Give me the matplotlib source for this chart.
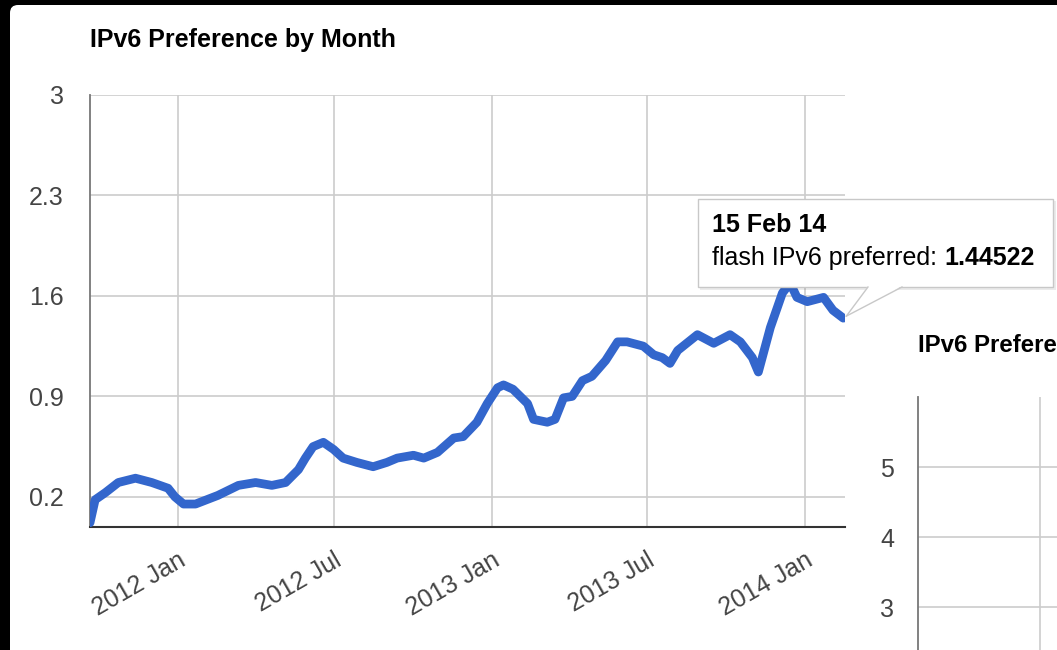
import numpy as np
import matplotlib.pyplot as plt
import matplotlib.dates as mdates
from matplotlib.patches import Rectangle, Polygon, FancyBboxPatch
from matplotlib.transforms import ScaledTranslation
from datetime import datetime

plt.rcParams['font.family'] = ['Liberation Sans', 'DejaVu Sans']

# datos
fechas = ['2011-09-21', '2011-09-27', '2011-10-09', '2011-10-24', '2011-11-13',
          '2011-12-02', '2011-12-21', '2011-12-29', '2012-01-08', '2012-01-22',
          '2012-02-17', '2012-03-12', '2012-04-01', '2012-04-20', '2012-05-06',
          '2012-05-21', '2012-05-29', '2012-06-07', '2012-06-19', '2012-07-01',
          '2012-07-12', '2012-07-28', '2012-08-16', '2012-09-01', '2012-09-13',
          '2012-10-02', '2012-10-14', '2012-10-30', '2012-11-18', '2012-11-29',
          '2012-12-15', '2012-12-27', '2013-01-08', '2013-01-15', '2013-01-26',
          '2013-02-12', '2013-02-19', '2013-03-07', '2013-03-16', '2013-03-26',
          '2013-04-05', '2013-04-17', '2013-04-28', '2013-05-14', '2013-05-28',
          '2013-06-08', '2013-06-27', '2013-07-09', '2013-07-19', '2013-07-28',
          '2013-08-06', '2013-08-29', '2013-09-17', '2013-10-06', '2013-10-18',
          '2013-11-01', '2013-11-08', '2013-11-22', '2013-12-06', '2013-12-15',
          '2013-12-23', '2014-01-04', '2014-01-23', '2014-02-03', '2014-02-15']
valores = [0.02, 0.18, 0.23, 0.30, 0.33,
           0.30, 0.26, 0.20, 0.15, 0.15,
           0.21, 0.28, 0.30, 0.28, 0.30,
           0.39, 0.47, 0.55, 0.58, 0.53,
           0.47, 0.44, 0.41, 0.44, 0.47,
           0.49, 0.47, 0.51, 0.61, 0.62,
           0.72, 0.85, 0.96, 0.98, 0.95,
           0.85, 0.74, 0.72, 0.74, 0.89,
           0.90, 1.01, 1.04, 1.15, 1.28,
           1.28, 1.25, 1.19, 1.17, 1.13,
           1.22, 1.33, 1.27, 1.33, 1.28,
           1.17, 1.07, 1.38, 1.62, 1.69,
           1.59, 1.56, 1.59, 1.50, 1.44522]

ticks_x = ['2012-01-01', '2012-07-01', '2013-01-01', '2013-07-01', '2014-01-01']
etiquetas_x = ['2012 Jan', '2012 Jul', '2013 Jan', '2013 Jul', '2014 Jan']
ticks_y = [0.2, 0.9, 1.6, 2.3, 3]
etiquetas_y = ['0.2', '0.9', '1.6', '2.3', '3']
ticks_y2 = [3, 4, 5]

titulo = 'IPv6 Preference by Month'
titulo2 = 'IPv6 Prefere'
tooltip_fecha = '15 Feb 14'
tooltip_serie = 'flash IPv6 preferred: '
tooltip_valor = '1.44522'

W, H = 1057, 650
fig = plt.figure(figsize=(W / 100, H / 100), dpi=100, facecolor='black')

# fondo blanco (captura de pantalla con borde negro)
fondo = fig.add_axes([0, 0, 1, 1], zorder=0)
fondo.set_xlim(0, W)
fondo.set_ylim(H, 0)
fondo.axis('off')
fondo.add_patch(FancyBboxPatch((10, 5), W + 50, H + 50,
                               boxstyle='round,pad=0,rounding_size=8',
                               fc='white', ec='none'))

gris_texto = '#444444'
gris_grid = '#cccccc'
fs = 18

# grafico principal
ax = fig.add_axes([90 / W, (H - 527) / H, 755 / W, 432 / H], zorder=1)
ax.patch.set_alpha(0)
x = [datetime.strptime(f, '%Y-%m-%d') for f in fechas]
ax.plot(x, valores, color='#3366cc', lw=6.3,
        solid_capstyle='round', solid_joinstyle='round', zorder=3)
ax.set_xlim(datetime(2011, 9, 21), datetime(2014, 2, 17))
ax.set_ylim(-0.01, 3)
ax.set_yticks(ticks_y)
ax.set_yticklabels(etiquetas_y)
ax.set_xticks([datetime.strptime(t, '%Y-%m-%d') for t in ticks_x])
ax.set_xticklabels(etiquetas_x, rotation=30, ha='right', rotation_mode='anchor')
desplaza = ScaledTranslation(-6 / 100, -4 / 100, fig.dpi_scale_trans)
for lab in ax.get_xticklabels():
    lab.set_transform(lab.get_transform() + desplaza)
ax.grid(color=gris_grid, lw=1.2)
ax.set_axisbelow(True)
for s in ['top', 'right']:
    ax.spines[s].set_visible(False)
ax.spines['left'].set_color('#777777')
ax.spines['left'].set_linewidth(1.3)
ax.spines['bottom'].set_color('#333333')
ax.spines['bottom'].set_linewidth(1.5)
ax.tick_params(axis='y', length=0, pad=19, labelsize=fs, labelcolor=gris_texto)
ax.tick_params(axis='x', length=0, pad=15, labelsize=fs, labelcolor=gris_texto)

# segundo grafico (cortado a la derecha)
ax2 = fig.add_axes([918 / W, 0, 139 / W, 253 / H], zorder=1)
ax2.patch.set_alpha(0)
ax2.set_xlim(0, 1)
ax2.set_ylim(2.386, 6)
ax2.set_yticks(ticks_y2)
ax2.set_xticks([0.878])
ax2.set_xticklabels([])
ax2.grid(color=gris_grid, lw=1.2)
for s in ['top', 'right', 'bottom']:
    ax2.spines[s].set_visible(False)
ax2.spines['left'].set_color('#777777')
ax2.spines['left'].set_linewidth(1.3)
ax2.tick_params(axis='y', length=0, pad=17, labelsize=fs, labelcolor=gris_texto)
ax2.tick_params(axis='x', length=0)

# capa superior: titulos y tooltip
capa = fig.add_axes([0, 0, 1, 1], zorder=5)
capa.set_xlim(0, W)
capa.set_ylim(H, 0)
capa.axis('off')
capa.patch.set_alpha(0)

capa.text(90, 40, titulo, fontsize=fs, fontweight='bold', color='black', va='center')
capa.text(918, 345, titulo2, fontsize=17.3, fontweight='bold', color='black', va='center')

# punto final en coordenadas de la capa
px, py = ax.transData.transform((mdates.date2num(x[-1]), valores[-1]))
px, py = capa.transData.inverted().transform((px, py))

capa.add_patch(Rectangle((700, 201), 356, 89, fc='#00000014', ec='none'))
capa.add_patch(Rectangle((698, 199), 355, 88, fc='white', ec='#c8c8c8', lw=1))
capa.add_patch(Polygon([(868, 286), (902, 286), (px + 3, py - 2)],
                       closed=True, fc='white', ec='none', zorder=3))
capa.plot([868, px + 3], [287, py - 2], color='#c8c8c8', lw=1, zorder=4)
capa.plot([902, px + 3], [287, py - 2], color='#c8c8c8', lw=1, zorder=4)

capa.text(712, 225, tooltip_fecha, fontsize=fs, fontweight='bold', color='black', va='center')
t = capa.text(712, 258, tooltip_serie, fontsize=fs, color='black', va='center')
capa.annotate(tooltip_valor, xy=(1, 0), xycoords=t, va='bottom', ha='left',
              fontsize=fs, fontweight='bold', color='black')

fig.savefig('out.png', dpi=100, facecolor='black')
